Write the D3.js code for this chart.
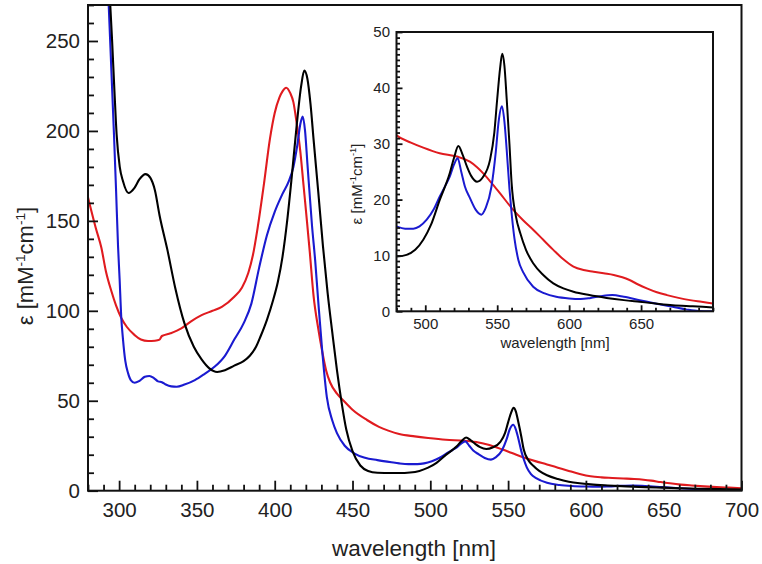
<!DOCTYPE html>
<html>
<head>
<meta charset="utf-8">
<script src="https://cdn.jsdelivr.net/npm/d3@7"></script>
<style>
  html, body { margin: 0; padding: 0; background: #fff; }
  svg { display: block; font-family: "Liberation Sans", Arial, sans-serif; }
</style>
</head>
<body>
<svg id="chart" width="762" height="564"></svg>
<script>
// ---- data: [wavelength nm, epsilon mM^-1 cm^-1] ----
const blackSpectrum = [[292,300],[294,275],[295.5,250],[297,222],[298.4,198],[300.4,180],[302.5,172],[306,165.5],[310,168.5],[313,173],[317,176],[320,174],[323,167],[326,153],[331,134],[336,113],[342,93],[348,80],[353,73],[358,68],[363,66],[368,67],[374,69.5],[380,72],[384,75],[388,80],[391,86],[395,95],[399,106],[402,116],[405,130],[408,150],[411,175],[414,202],[417,225],[419,233.5],[421,229],[423,215],[425,195],[428,166],[431,136],[434,110],[437,88],[440,67],[443,49],[446,34],[450,22],[455,14],[460,11],[466,10],[475,9.8],[480,9.8],[487,10.1],[493,11],[498.6,12.8],[504,15.5],[510,19.9],[517,24.7],[520,27.5],[523,29.6],[526,28],[529,25.9],[532,24.2],[536,23.2],[540,24],[545,27.1],[548,32],[550,38],[552,43.5],[553.5,46.1],[555,44],[556.6,38],[558.5,30],[560,23],[563,17],[566,14],[570,11],[575,8.6],[582,6.5],[589,5],[596,4.1],[603,3.5],[614,2.9],[626,2.4],[638,2.0],[649,1.7],[660,1.4],[672,1.1],[686,0.9],[700,0.7]];
const blueSpectrum = [[291,310],[293.3,270],[295,234],[296.7,198],[298,168],[299.3,136],[300.3,118],[301.4,96],[302.5,84],[304,72],[305.7,65.5],[307.5,61.5],[310,60],[313,61],[316.5,63.3],[319.5,63.8],[322.5,62.5],[325,60.8],[327.5,60.3],[330,59],[333.5,58],[337,57.8],[342,59],[348.7,61.5],[355,65],[361.5,69],[368,75],[374,84],[380,93],[385,104],[390,124],[395,142],[400,155],[405,165],[409,172],[412,180],[414.5,192],[416.5,204],[418,208],[419.5,200],[421,182],[424,147],[426,128],[428,105],[430.5,78],[433.5,52],[437,39],[440,32],[445,25],[451,20.8],[458,18.3],[466,17],[475,15.8],[480,15.2],[486,14.8],[491.7,14.8],[496,15.2],[501,16.4],[506,18.3],[510,20.5],[514,22.5],[517,24.1],[520,26.3],[522.5,27.4],[525,25],[527.6,22.3],[531,20.3],[535,18.2],[539,17.3],[542,18.5],[546,22.3],[549,28.5],[551,34],[553.3,36.7],[555,34],[556.6,28.9],[558.5,22],[560,17.6],[562,13],[564.7,9.2],[568,7],[575,4.4],[583,3.2],[591,2.6],[600,2.3],[608,2.2],[615,2.4],[622,2.7],[630,2.9],[638,2.6],[649,2.0],[660,1.4],[672,0.8],[682,0.3],[690,0.05],[700,0]];
const redSpectrum = [[280,163],[282,156],[285,146],[288.6,135],[291.5,122],[295,111],[298,103],[301.4,96],[305,91],[310,86.5],[314,84],[318.6,83.2],[323,83.4],[326,84],[327.5,86],[333,87.5],[340,90.2],[346,94],[353,97.6],[360,100],[366,102.2],[374,107.8],[379,113],[383,121],[386,131],[389,146],[393,170],[397,196],[400,210],[403,218.5],[405,222],[407.4,224],[410,221],[412,216],[414,205],[416.4,189],[418.5,170],[420.7,150],[422.5,133],[425,108],[428,90],[430.4,78],[433,67],[435.7,60],[440,54],[444.3,50],[450,45],[459.3,39.3],[467,35.5],[473,33.4],[480,31.5],[490,30.2],[498.6,29.3],[510,28.3],[522,27.7],[531,26.8],[536,25.8],[540.3,24.7],[546,23],[552,21.1],[561,18.2],[568,16.3],[575,14.6],[582,12.8],[589,11],[596,9.3],[603,8.0],[610,7.4],[617,7.1],[624,6.8],[631,6.5],[637,6.1],[642,5.6],[648,4.8],[654,4.1],[661,3.4],[668,2.9],[676,2.4],[684,2.0],[692,1.7],[700,1.4]];

const seriesNames = ["red", "blue", "black"];
const seriesColors = ["#e01b1f", "#1a1ad0", "#000000"];

const mainXTicks = [300, 350, 400, 450, 500, 550, 600, 650, 700];
const mainYTicks = [0, 50, 100, 150, 200, 250];
const insetXTicks = [500, 550, 600, 650];
const insetYTicks = [0, 10, 20, 30, 40, 50];

const xLabel = "wavelength [nm]";

// ---- drawing ----
const svg = d3.select("#chart");
const allSeries = [redSpectrum, blueSpectrum, blackSpectrum];

function epsTitle(sel, size) {
  sel.append("tspan").text("ε [mM");
  sel.append("tspan").attr("font-size", size * 0.62).attr("dy", -size * 0.38).text("-1");
  sel.append("tspan").attr("dy", size * 0.38).text("cm");
  sel.append("tspan").attr("font-size", size * 0.62).attr("dy", -size * 0.38).text("-1");
  sel.append("tspan").attr("dy", size * 0.38).text("]");
}

function drawPanel(opts) {
  const { x0, x1, y0, y1, xDom, yDom, xMajor, yMajor, xMinorStep, yMinorStep,
          fontSize, majorLen, minorLen, xPad, yPad, lineW, frameW, id } = opts;
  const x = d3.scaleLinear().domain(xDom).range([x0, x1]);
  const y = d3.scaleLinear().domain(yDom).range([y1, y0]);
  const g = svg.append("g");

  g.append("rect").attr("x", x0).attr("y", y0).attr("width", x1 - x0).attr("height", y1 - y0)
    .attr("fill", "#fff");

  g.append("clipPath").attr("id", id).append("rect")
    .attr("x", x0).attr("y", y0).attr("width", x1 - x0).attr("height", y1 - y0);

  const line = d3.line().x(d => x(d[0])).y(d => y(d[1])).curve(d3.curveMonotoneX);
  const lines = g.append("g").attr("clip-path", `url(#${id})`);
  allSeries.forEach((s, i) => {
    const data = s.filter(d => d[0] >= xDom[0] - 15 && d[0] <= xDom[1] + 15);
    lines.append("path").datum(data).attr("d", line)
      .attr("fill", "none").attr("stroke", seriesColors[i])
      .attr("stroke-width", lineW).attr("stroke-linejoin", "round");
  });

  const xMinor = d3.range(xDom[0], xDom[1] + 0.001, xMinorStep).filter(v => !xMajor.includes(v));
  const yMinor = d3.range(yDom[0], yDom[1] + 0.001, yMinorStep).filter(v => !yMajor.includes(v));

  const ax = g.append("g").attr("transform", `translate(0,${y1})`)
    .call(d3.axisBottom(x).tickValues(xMinor).tickSize(-minorLen).tickFormat(""));
  const axM = g.append("g").attr("transform", `translate(0,${y1})`)
    .call(d3.axisBottom(x).tickValues(xMajor).tickSize(-majorLen).tickPadding(xPad).tickFormat(d3.format("d")));
  const ay = g.append("g").attr("transform", `translate(${x0},0)`)
    .call(d3.axisLeft(y).tickValues(yMinor).tickSize(-minorLen).tickFormat(""));
  const ayM = g.append("g").attr("transform", `translate(${x0},0)`)
    .call(d3.axisLeft(y).tickValues(yMajor).tickSize(-majorLen).tickPadding(yPad).tickFormat(d3.format("d")));
  [ax, axM, ay, ayM].forEach(a => {
    a.select(".domain").remove();
    a.selectAll("line").attr("stroke", "#111").attr("stroke-width", 1.8);
    a.selectAll("text").attr("font-size", fontSize).attr("fill", "#222")
      .attr("font-family", '"Liberation Sans", Arial, sans-serif');
  });

  g.append("rect").attr("x", x0).attr("y", y0).attr("width", x1 - x0).attr("height", y1 - y0)
    .attr("fill", "none").attr("stroke", "#111").attr("stroke-width", frameW);
  return { x, y, g };
}

// main panel
drawPanel({ id: "clipMain", x0: 88, x1: 741.5, y0: 5, y1: 490.7, xDom: [280, 700], yDom: [0, 270],
  xMajor: mainXTicks, yMajor: mainYTicks, xMinorStep: 10, yMinorStep: 10,
  fontSize: 20.5, majorLen: 10, minorLen: 6, xPad: 12, yPad: 8, lineW: 2.1, frameW: 2 });

svg.append("text").attr("x", 414).attr("y", 556).attr("text-anchor", "middle")
  .attr("font-size", 22.5).attr("fill", "#222").text(xLabel);
svg.append("text").attr("transform", "translate(33,266) rotate(-90)").attr("text-anchor", "middle")
  .attr("font-size", 22).attr("fill", "#222").call(epsTitle, 22);

// inset panel
drawPanel({ id: "clipInset", x0: 396.5, x1: 713, y0: 32, y1: 311.3, xDom: [480, 700], yDom: [0, 50],
  xMajor: insetXTicks, yMajor: insetYTicks, xMinorStep: 10, yMinorStep: 1,
  fontSize: 15, majorLen: 6, minorLen: 3.5, xPad: 7, yPad: 6.5, lineW: 2, frameW: 2 });

svg.append("text").attr("x", 555).attr("y", 348).attr("text-anchor", "middle")
  .attr("font-size", 15).attr("fill", "#222").text(xLabel);
svg.append("text").attr("transform", "translate(362,184) rotate(-90)").attr("text-anchor", "middle")
  .attr("font-size", 15).attr("fill", "#222").call(epsTitle, 15);
</script>
</body>
</html>
